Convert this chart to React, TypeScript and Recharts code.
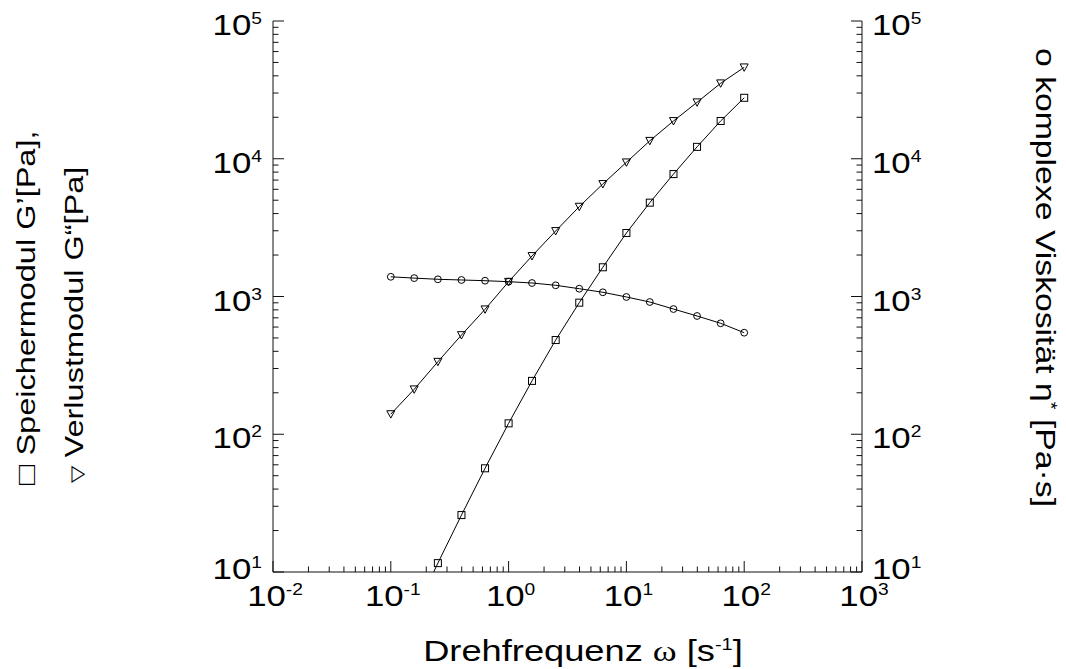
import { LineChart, Line, XAxis, YAxis } from 'recharts'

// angular frequency ω [1/s], 5 points per decade
const omega = [0.1, 0.158, 0.251, 0.398, 0.631, 1, 1.58, 2.51, 3.98, 6.31, 10, 15.8, 25.1, 39.8, 63.1, 100]
// G' storage modulus [Pa] (first point below the axis range)
const storageModulus = [null, 5.0, 11.6, 25.9, 56.6, 120, 244, 483, 902, 1630, 2890, 4800, 7740, 12200, 18800, 27700]
// G'' loss modulus [Pa]
const lossModulus = [140, 212, 336, 525, 807, 1280, 1968, 2990, 4490, 6560, 9420, 13500, 18800, 25700, 35300, 46100]
// η* complex viscosity [Pa·s]
const complexViscosity = [1390, 1360, 1333, 1318, 1302, 1281, 1253, 1206, 1139, 1073, 992, 912, 811, 722, 639, 546]

const xDecades = [-2, -1, 0, 1, 2, 3]
const yDecades = [1, 2, 3, 4, 5]

const FONT = '"Liberation Sans", Arial, Helvetica, sans-serif'
const SX = 1.25
const TICK_SX = 1.2
const INK = '#111'

const rows = omega.map((w, i) => ({
  w,
  gs: storageModulus[i],
  gl: lossModulus[i],
  eta: complexViscosity[i],
}))

function logTicks(decades: number[]) {
  const out: number[] = []
  decades.forEach((d, i) => {
    out.push(Math.pow(10, d))
    if (i < decades.length - 1) for (let m = 2; m <= 9; m++) out.push(m * Math.pow(10, d))
  })
  return out
}
const xTicks = logTicks(xDecades)
const yTicks = logTicks(yDecades)

const isMajor = (v: number) => Math.abs(Math.log10(v) - Math.round(Math.log10(v))) < 1e-6

function Pow({ x, y, exp, anchor }: { x: number; y: number; exp: number; anchor: string }) {
  return (
    <text
      transform={`translate(${x},${y}) scale(${TICK_SX},1)`}
      textAnchor={anchor}
      fontFamily={FONT}
      fontSize={29}
      fill="#000"
    >
      <tspan>10</tspan>
      <tspan dy={-11} fontSize={16}>
        {exp}
      </tspan>
    </text>
  )
}

// the lowest label sits higher so it clears the x tick labels
const yLabelOffset = (v: number) => (v === 10 ? 7 : 14)

function LeftTick(p: any) {
  const v = p.payload.value
  const major = isMajor(v)
  return (
    <g>
      <line x1={p.x} x2={p.x + (major ? 11 : 5.5)} y1={p.y} y2={p.y} stroke={INK} />
      {major && <Pow x={p.x - 11} y={p.y + yLabelOffset(v)} exp={Math.round(Math.log10(v))} anchor="end" />}
    </g>
  )
}

function RightTick(p: any) {
  const v = p.payload.value
  const major = isMajor(v)
  return (
    <g>
      <line x1={p.x} x2={p.x - (major ? 11 : 5.5)} y1={p.y} y2={p.y} stroke={INK} />
      {major && <Pow x={p.x + 10} y={p.y + yLabelOffset(v)} exp={Math.round(Math.log10(v))} anchor="start" />}
    </g>
  )
}

function BottomTick(p: any) {
  const v = p.payload.value
  const major = isMajor(v)
  return (
    <g>
      <line x1={p.x} x2={p.x} y1={p.y} y2={p.y - (major ? 11 : 5.5)} stroke={INK} />
      {major && <Pow x={p.x + 2} y={p.y + 34} exp={Math.round(Math.log10(v))} anchor="middle" />}
    </g>
  )
}

const Square = (p: any) =>
  p.cx == null || p.cy == null || p.value == null ? (
    <g key={`s${p.index}`} />
  ) : (
    <rect key={`s${p.index}`} x={p.cx - 3.5} y={p.cy - 3.5} width={7} height={7} fill="none" stroke="#000" />
  )

const Triangle = (p: any) => (
  <path
    key={`t${p.index}`}
    d={`M${p.cx - 4},${p.cy - 3.4}L${p.cx + 4},${p.cy - 3.4}L${p.cx},${p.cy + 4}Z`}
    fill="none"
    stroke="#000"
  />
)

const Circle = (p: any) => <circle key={`c${p.index}`} cx={p.cx} cy={p.cy} r={3.4} fill="none" stroke="#000" />

export default function App() {
  return (
    <div style={{ position: 'absolute', left: 0, top: 0, width: 1066, height: 669 }}>
      <LineChart width={1066} height={669} data={rows} margin={{ top: 21, right: 144, bottom: 57, left: 213 }}>
        <XAxis
          xAxisId="b"
          dataKey="w"
          type="number"
          scale="log"
          domain={[0.01, 1000]}
          allowDataOverflow
          ticks={xTicks}
          interval={0}
          tick={BottomTick}
          tickLine={false}
          tickSize={0}
          tickMargin={0}
          axisLine={{ stroke: INK }}
          height={40}
        />
        <XAxis
          xAxisId="t"
          orientation="top"
          dataKey="w"
          type="number"
          scale="log"
          domain={[0.01, 1000]}
          allowDataOverflow
          tick={false}
          tickLine={false}
          axisLine={{ stroke: INK }}
          height={0}
        />
        <YAxis
          yAxisId="l"
          type="number"
          scale="log"
          domain={[10, 100000]}
          allowDataOverflow
          ticks={yTicks}
          interval={0}
          tick={LeftTick}
          tickLine={false}
          tickSize={0}
          tickMargin={0}
          axisLine={{ stroke: INK }}
          width={60}
        />
        <YAxis
          yAxisId="r"
          orientation="right"
          type="number"
          scale="log"
          domain={[10, 100000]}
          allowDataOverflow
          ticks={yTicks}
          interval={0}
          tick={RightTick}
          tickLine={false}
          tickSize={0}
          tickMargin={0}
          axisLine={{ stroke: INK }}
          width={60}
        />
        <Line
          xAxisId="b"
          yAxisId="l"
          dataKey="gs"
          type="linear"
          stroke="#000"
          strokeWidth={1}
          dot={Square}
          activeDot={false}
          isAnimationActive={false}
        />
        <Line
          xAxisId="b"
          yAxisId="l"
          dataKey="gl"
          type="linear"
          stroke="#000"
          strokeWidth={1}
          dot={Triangle}
          activeDot={false}
          isAnimationActive={false}
        />
        <Line
          xAxisId="b"
          yAxisId="r"
          dataKey="eta"
          type="linear"
          stroke="#000"
          strokeWidth={1}
          dot={Circle}
          activeDot={false}
          isAnimationActive={false}
        />
      </LineChart>
      <svg
        width={1066}
        height={669}
        style={{ position: 'absolute', left: 0, top: 0, pointerEvents: 'none' }}
        fontFamily={FONT}
        fill="#000"
      >
        <text transform={`translate(583,661) scale(${SX},1)`} textAnchor="middle" fontSize={29}>
          Drehfrequenz <tspan fontFamily='"Liberation Serif", serif'>ω</tspan> [s
          <tspan dy={-11} fontSize={16}>
            -1
          </tspan>
          <tspan dy={11}>]</tspan>
        </text>
        <text transform={`translate(35,485) rotate(-90) scale(${SX},1)`} textAnchor="start" fontSize={26}>
          <tspan fontSize={27}>□</tspan> Speichermodul G’[Pa],
        </text>
        <text transform={`translate(83,483) rotate(-90) scale(${SX},1)`} textAnchor="start" fontSize={26}>
          <tspan fontSize={18}>▽</tspan> Verlustmodul G“[Pa]
        </text>
        <text transform={`translate(1036,48) rotate(90) scale(${SX},1)`} textAnchor="start" fontSize={27}>
          o komplexe Viskosität η
          <tspan dy={-9} fontSize={16}>
            *
          </tspan>
          <tspan dy={9}> [Pa·s]</tspan>
        </text>
      </svg>
    </div>
  )
}
